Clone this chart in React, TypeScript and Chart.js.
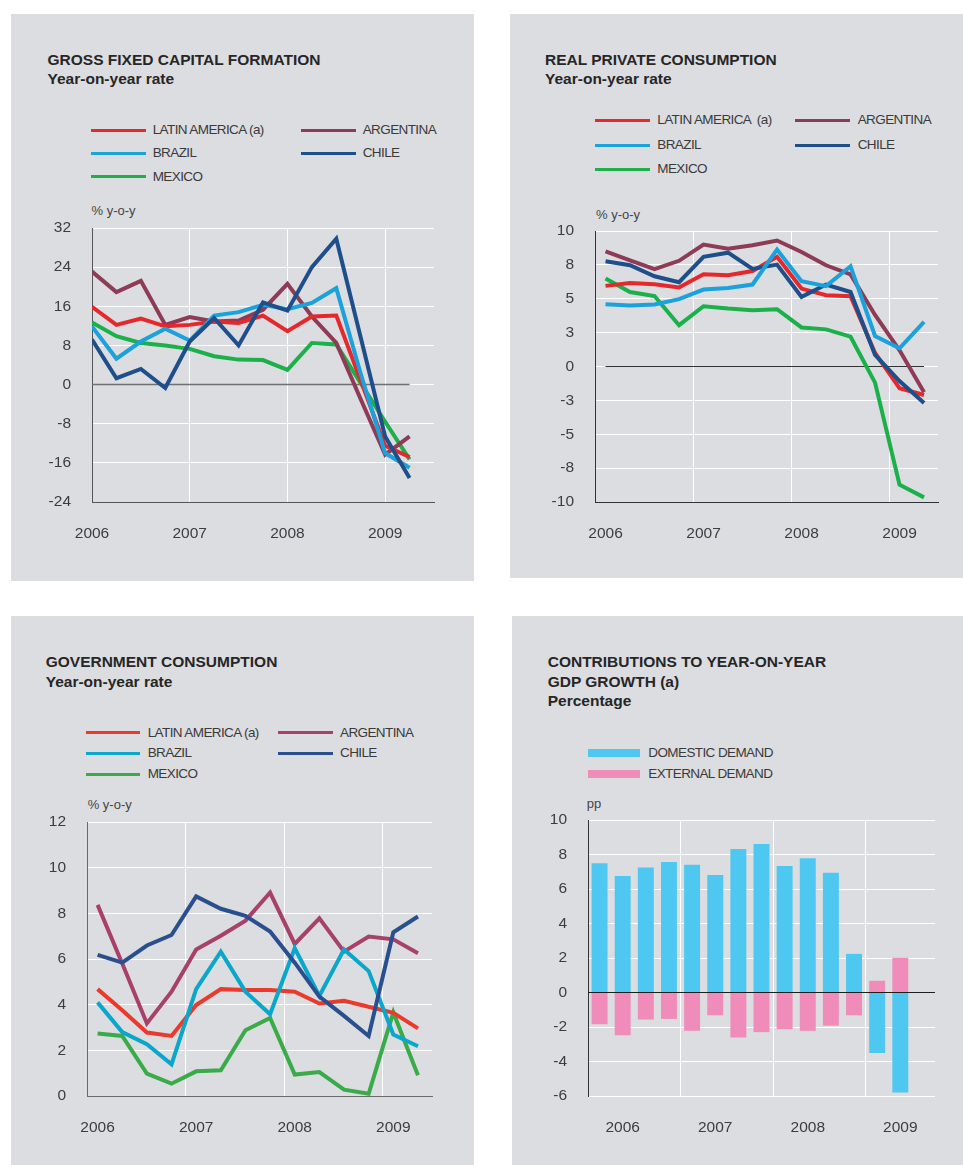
import React, { useEffect, useRef } from 'react';
import { Chart, registerables } from 'chart.js';

Chart.register(...registerables);

// ---------------- DATA ----------------
const quarters = [
  '2006 Q1', '2006 Q2', '2006 Q3', '2006 Q4',
  '2007 Q1', '2007 Q2', '2007 Q3', '2007 Q4',
  '2008 Q1', '2008 Q2', '2008 Q3', '2008 Q4',
  '2009 Q1', '2009 Q2',
];
const yearLabels = ['2006', '2007', '2008', '2009'];

// Gross fixed capital formation, % y-o-y
const gfcfLatam = [15.9, 12.2, 13.5, 11.9, 12.2, 12.9, 12.6, 14.1, 10.9, 13.9, 14.1, 0.8, -12.5, -14.8];
const gfcfArgentina = [23.1, 18.9, 21.2, 12.2, 13.8, 12.9, 13.1, 15.3, 20.6, 13.9, 8.5, -3.0, -14.3, -10.6];
const gfcfBrazil = [11.9, 5.3, 8.8, 11.4, 9.0, 14.1, 14.8, 16.3, 15.4, 16.7, 19.7, 2.2, -14.0, -17.0];
const gfcfChile = [9.2, 1.3, 3.2, -0.7, 8.8, 13.6, 8.0, 16.8, 15.1, 24.0, 29.8, 9.6, -10.6, -19.1];
const gfcfMexico = [12.7, 9.9, 8.5, 8.0, 7.3, 5.8, 5.1, 5.0, 3.0, 8.5, 8.2, 0.3, -7.6, -15.3];
const gfcfYTicks = { min: -24, max: 32, step: 8 };

// Real private consumption, % y-o-y
const rpcLatam = [5.95, 6.17, 6.07, 5.83, 6.8, 6.74, 7.05, 8.1, 5.75, 5.26, 5.19, 1.0, -1.6, -2.1];
const rpcArgentina = [8.5, 7.84, 7.18, 7.8, 9.0, 8.7, 8.95, 9.3, 8.45, 7.47, 6.8, 3.8, 1.2, -1.9];
const rpcBrazil = [4.6, 4.5, 4.58, 4.97, 5.68, 5.8, 6.05, 8.63, 6.3, 5.93, 7.4, 2.25, 1.34, 3.3];
const rpcChile = [7.77, 7.47, 6.66, 6.22, 8.09, 8.4, 7.2, 7.52, 5.14, 6.05, 5.5, 0.85, -1.07, -2.7];
const rpcMexico = [6.5, 5.5, 5.2, 3.05, 4.45, 4.28, 4.16, 4.23, 2.88, 2.74, 2.2, -1.19, -8.72, -9.66];
const rpcYTicks = { min: -10, max: 10, step: 2.5 };
const rpcYTickLabels = ['-10', '-8', '-5', '-3', '0', '3', '5', '8', '10'];

// Government consumption, % y-o-y
const gcLatam = [4.68, 3.76, 2.78, 2.63, 3.98, 4.68, 4.64, 4.64, 4.57, 4.05, 4.17, 3.91, 3.64, 2.96];
const gcArgentina = [8.37, 5.8, 3.18, 4.57, 6.42, 7.02, 7.68, 8.91, 6.66, 7.78, 6.32, 6.98, 6.86, 6.25];
const gcBrazil = [4.1, 2.8, 2.27, 1.39, 4.68, 6.32, 4.57, 3.58, 6.47, 4.38, 6.42, 5.47, 2.69, 2.18];
const gcChile = [6.18, 5.84, 6.59, 7.05, 8.74, 8.2, 7.89, 7.2, 5.84, 4.35, 3.51, 2.63, 7.17, 7.86];
const gcMexico = [2.74, 2.63, 0.98, 0.54, 1.08, 1.13, 2.88, 3.42, 0.94, 1.05, 0.28, 0.1, 3.66, 0.91];
const gcYTicks = { min: 0, max: 12, step: 2 };

// Contributions to y-o-y GDP growth, pp
const domesticDemand = [7.49, 6.75, 7.25, 7.56, 7.41, 6.81, 8.32, 8.61, 7.33, 7.78, 6.94, 2.24, -3.5, -5.8];
const externalDemand = [-1.84, -2.48, -1.57, -1.53, -2.22, -1.32, -2.61, -2.3, -2.13, -2.22, -1.92, -1.32, 0.68, 2.01];
const contribYTicks = { min: -6, max: 10, step: 2 };

// ---------------- STYLE ----------------
const FONT = "'Liberation Sans', Arial, Helvetica, sans-serif";
const PANEL_BG = '#dcdde0';
const TICK_FONT = { family: FONT, size: 15.5 };
const TICK_COLOR = '#3d3d3d';
const CLEAR = 'rgba(0,0,0,0)';
const Y_W = 70;
const PAD_T = 15;
const PAD_R = 10;
const X_H = 55;

const colorsTop = { latam: '#e5282c', argentina: '#8e3b55', brazil: '#1ba1dc', chile: '#1f4f8a', mexico: '#1bb04a' };
const colorsGov = { latam: '#ea3a2d', argentina: '#a8416a', brazil: '#0aa7cb', chile: '#2a4f8f', mexico: '#39ab49' };
const domesticColor = '#4fc8f1';
const externalColor = '#f08cba';

const yearStartIdx = yearLabels.map((y) => quarters.indexOf(y + ' Q1'));

type Geo = { L: number; T: number; R: number; B: number };

function fixY(scale: any) {
  scale.width = Y_W;
  scale.paddingTop = 0;
  scale.paddingBottom = 0;
  scale.paddingLeft = 0;
  scale.paddingRight = 0;
}
function fixX(scale: any) {
  scale.height = X_H;
  scale.paddingTop = 0;
  scale.paddingBottom = 0;
  scale.paddingLeft = 0;
  scale.paddingRight = 0;
}

type AxisOpts = {
  geo: Geo;
  xMin: number;
  xMax: number;
  xTicks: number[];
  labelShift: number; // in x units
  yMin: number;
  yMax: number;
  yStep: number;
  yLabels?: string[];
  axisColor: string;
  xBorder: boolean;
  stacked?: boolean;
};

function buildOptions(o: AxisOpts): any {
  const unitPx = (o.geo.R - o.geo.L) / (o.xMax - o.xMin);
  return {
    responsive: false,
    animation: false,
    events: [],
    layout: { padding: { top: PAD_T, right: PAD_R, left: 0, bottom: 0 } },
    plugins: { legend: { display: false }, tooltip: { enabled: false } },
    scales: {
      x: {
        type: 'linear',
        min: o.xMin,
        max: o.xMax,
        offset: false,
        stacked: !!o.stacked,
        afterBuildTicks: (s: any) => {
          s.ticks = o.xTicks.map((v) => ({ value: v }));
        },
        afterFit: fixX,
        grid: {
          color: (c: any) => (c.index === 0 ? CLEAR : '#ffffff'),
          lineWidth: 1,
          drawTicks: false,
          offset: false,
        },
        border: { display: o.xBorder, color: o.axisColor, width: 1 },
        ticks: {
          callback: (_v: any, i: number) => yearLabels[i],
          font: TICK_FONT,
          color: TICK_COLOR,
          padding: 22,
          labelOffset: o.labelShift * unitPx,
          maxRotation: 0,
          autoSkip: false,
        },
      },
      y: {
        type: 'linear',
        min: o.yMin,
        max: o.yMax,
        stacked: !!o.stacked,
        afterFit: fixY,
        grid: {
          color: (c: any) => (o.xBorder && c.tick && c.tick.value === o.yMin ? CLEAR : '#ffffff'),
          lineWidth: 1,
          drawTicks: false,
        },
        border: { color: o.axisColor, width: 1 },
        ticks: {
          stepSize: o.yStep,
          callback: (v: any, i: number) => (o.yLabels ? o.yLabels[i] : String(v)),
          font: TICK_FONT,
          color: TICK_COLOR,
          padding: 21,
        },
      },
    },
  };
}

type Series = { label: string; values: number[]; color: string; order: number };

function lineConfig(series: Series[], axis: AxisOpts, zero?: { from: number; to: number; color: string; width: number }) {
  const datasets: any[] = series.map((s) => ({
    type: 'line',
    label: s.label,
    data: s.values.map((v, i) => ({ x: i, y: v })),
    borderColor: s.color,
    backgroundColor: s.color,
    borderWidth: 4,
    pointRadius: 0,
    tension: 0,
    fill: false,
    order: s.order,
  }));
  if (zero) {
    datasets.push({
      type: 'line',
      label: 'zero',
      data: [
        { x: zero.from, y: 0 },
        { x: zero.to, y: 0 },
      ],
      borderColor: zero.color,
      backgroundColor: zero.color,
      borderWidth: zero.width,
      pointRadius: 0,
      order: 99,
    });
  }
  return { type: 'line', data: { datasets }, options: buildOptions(axis) };
}

function ChartBox({ geo, makeConfig }: { geo: Geo; makeConfig: () => any }) {
  const ref = useRef<HTMLCanvasElement>(null);
  const left = geo.L - Y_W;
  const top = geo.T - PAD_T;
  const w = geo.R + PAD_R - left;
  const h = geo.B + X_H - top;
  useEffect(() => {
    const chart = new Chart(ref.current as HTMLCanvasElement, makeConfig());
    return () => chart.destroy();
  }, []);
  return (
    <canvas
      ref={ref}
      width={w}
      height={h}
      style={{ position: 'absolute', left, top, width: w, height: h }}
    />
  );
}

function Txt({ x, y, size, bold, color, ls, children }: any) {
  return (
    <div
      style={{
        position: 'absolute',
        left: x,
        top: y - size * 0.59,
        fontFamily: FONT,
        fontSize: size,
        lineHeight: size * 1.2 + 'px',
        fontWeight: bold ? 700 : 400,
        color: color || '#262626',
        letterSpacing: ls || 0,
        whiteSpace: 'pre',
      }}
    >
      {children}
    </div>
  );
}

function Swatch({ x, y, w, h, color }: any) {
  return <div style={{ position: 'absolute', left: x, top: y - h / 2, width: w, height: h, background: color }} />;
}

function LegendItem({ sx, tx, y, w, h, color, label }: any) {
  return (
    <>
      <Swatch x={sx} y={y} w={w} h={h} color={color} />
      <Txt x={tx} y={y} size={13.5} color="#3a3a3a" ls="-0.6px">
        {label}
      </Txt>
    </>
  );
}

const LAST = quarters.length - 1;

export default function App() {
  const geo1: Geo = { L: 92, T: 228, R: 434, B: 502 };
  const geo2: Geo = { L: 595, T: 231, R: 938, B: 502 };
  const geo3: Geo = { L: 87, T: 822, R: 432, B: 1096 };
  const geo4: Geo = { L: 588, T: 820, R: 935, B: 1096 };

  const make1 = () =>
    lineConfig(
      [
        { label: 'LATIN AMERICA (a)', values: gfcfLatam, color: colorsTop.latam, order: 3 },
        { label: 'ARGENTINA', values: gfcfArgentina, color: colorsTop.argentina, order: 4 },
        { label: 'BRAZIL', values: gfcfBrazil, color: colorsTop.brazil, order: 2 },
        { label: 'CHILE', values: gfcfChile, color: colorsTop.chile, order: 1 },
        { label: 'MEXICO', values: gfcfMexico, color: colorsTop.mexico, order: 5 },
      ],
      {
        geo: geo1, xMin: 0, xMax: 14, xTicks: yearStartIdx, labelShift: 0,
        yMin: gfcfYTicks.min, yMax: gfcfYTicks.max, yStep: gfcfYTicks.step,
        axisColor: '#555555', xBorder: true,
      },
      { from: 0, to: LAST, color: '#707070', width: 1.5 }
    );

  const make2 = () =>
    lineConfig(
      [
        { label: 'LATIN AMERICA (a)', values: rpcLatam, color: colorsTop.latam, order: 3 },
        { label: 'ARGENTINA', values: rpcArgentina, color: colorsTop.argentina, order: 4 },
        { label: 'BRAZIL', values: rpcBrazil, color: colorsTop.brazil, order: 1 },
        { label: 'CHILE', values: rpcChile, color: colorsTop.chile, order: 2 },
        { label: 'MEXICO', values: rpcMexico, color: colorsTop.mexico, order: 5 },
      ],
      {
        geo: geo2, xMin: -0.43, xMax: 13.57, xTicks: yearStartIdx.map((v) => v - 0.43), labelShift: 0.43,
        yMin: rpcYTicks.min, yMax: rpcYTicks.max, yStep: rpcYTicks.step, yLabels: rpcYTickLabels,
        axisColor: '#333333', xBorder: true,
      },
      { from: 0, to: LAST, color: '#333333', width: 1 }
    );

  const make3 = () =>
    lineConfig(
      [
        { label: 'LATIN AMERICA (a)', values: gcLatam, color: colorsGov.latam, order: 3 },
        { label: 'ARGENTINA', values: gcArgentina, color: colorsGov.argentina, order: 4 },
        { label: 'BRAZIL', values: gcBrazil, color: colorsGov.brazil, order: 2 },
        { label: 'CHILE', values: gcChile, color: colorsGov.chile, order: 1 },
        { label: 'MEXICO', values: gcMexico, color: colorsGov.mexico, order: 5 },
      ],
      {
        geo: geo3, xMin: -0.43, xMax: 13.57, xTicks: yearStartIdx.map((v) => v - 0.43), labelShift: 0.43,
        yMin: gcYTicks.min, yMax: gcYTicks.max, yStep: gcYTicks.step,
        axisColor: '#6a6a6a', xBorder: true,
      }
    );

  const make4 = () => {
    const axis: AxisOpts = {
      geo: geo4, xMin: -0.5, xMax: 14.5, xTicks: yearStartIdx.map((v) => v - 0.5), labelShift: 1.5,
      yMin: contribYTicks.min, yMax: contribYTicks.max, yStep: contribYTicks.step,
      axisColor: '#333333', xBorder: false, stacked: true,
    };
    return {
      type: 'bar',
      data: {
        datasets: [
          {
            type: 'bar',
            label: 'DOMESTIC DEMAND',
            data: domesticDemand.map((v, i) => ({ x: i, y: v })),
            backgroundColor: domesticColor,
            borderWidth: 0,
            barPercentage: 0.69,
            categoryPercentage: 1,
            stack: 'gdp',
          },
          {
            type: 'bar',
            label: 'EXTERNAL DEMAND',
            data: externalDemand.map((v, i) => ({ x: i, y: v })),
            backgroundColor: externalColor,
            borderWidth: 0,
            barPercentage: 0.69,
            categoryPercentage: 1,
            stack: 'gdp',
          },
          {
            type: 'line',
            label: 'zero',
            data: [
              { x: axis.xMin, y: 0 },
              { x: axis.xMax, y: 0 },
            ],
            borderColor: '#1e1e1e',
            borderWidth: 1.2,
            pointRadius: 0,
            stack: 'zero',
            order: -1,
          },
        ],
      },
      options: buildOptions(axis),
    };
  };

  const unitLbl = { size: 13, color: '#444444' };

  return (
    <div style={{ position: 'absolute', left: 0, top: 0, width: 963, height: 1165, overflow: 'hidden', background: '#ffffff' }}>
      {/* panel backgrounds */}
      <div style={{ position: 'absolute', left: 11, top: 14, width: 463, height: 567, background: PANEL_BG }} />
      <div style={{ position: 'absolute', left: 510, top: 14, width: 453, height: 564, background: PANEL_BG }} />
      <div style={{ position: 'absolute', left: 11, top: 616, width: 463, height: 549, background: PANEL_BG }} />
      <div style={{ position: 'absolute', left: 512, top: 616, width: 451, height: 549, background: PANEL_BG }} />

      {/* Panel 1 */}
      <Txt x={47.5} y={60.2} size={15.5} bold>GROSS FIXED CAPITAL FORMATION</Txt>
      <Txt x={47.5} y={79.4} size={15.5} bold>Year-on-year rate</Txt>
      <LegendItem sx={91} tx={152.7} y={130} w={55} h={3} color={colorsTop.latam} label="LATIN AMERICA (a)" />
      <LegendItem sx={301} tx={362.7} y={130} w={55} h={3} color={colorsTop.argentina} label="ARGENTINA" />
      <LegendItem sx={91} tx={152.7} y={153.3} w={55} h={3} color={colorsTop.brazil} label="BRAZIL" />
      <LegendItem sx={301} tx={362.7} y={153.3} w={55} h={3} color={colorsTop.chile} label="CHILE" />
      <LegendItem sx={91} tx={152.7} y={176.7} w={55} h={3} color={colorsTop.mexico} label="MEXICO" />
      <Txt x={91.5} y={211} size={unitLbl.size} color={unitLbl.color}>% y-o-y</Txt>
      <ChartBox geo={geo1} makeConfig={make1} />

      {/* Panel 2 */}
      <Txt x={545} y={60.2} size={15.5} bold>REAL PRIVATE CONSUMPTION</Txt>
      <Txt x={545} y={79.4} size={15.5} bold>Year-on-year rate</Txt>
      <LegendItem sx={595} tx={657.3} y={120} w={55} h={3} color={colorsTop.latam} label="LATIN AMERICA  (a)" />
      <LegendItem sx={795} tx={857.7} y={120} w={55} h={3} color={colorsTop.argentina} label="ARGENTINA" />
      <LegendItem sx={595} tx={657.3} y={145} w={55} h={3} color={colorsTop.brazil} label="BRAZIL" />
      <LegendItem sx={795} tx={857.7} y={145} w={55} h={3} color={colorsTop.chile} label="CHILE" />
      <LegendItem sx={595} tx={657.3} y={169.3} w={55} h={3} color={colorsTop.mexico} label="MEXICO" />
      <Txt x={596} y={215} size={unitLbl.size} color={unitLbl.color}>% y-o-y</Txt>
      <ChartBox geo={geo2} makeConfig={make2} />

      {/* Panel 3 */}
      <Txt x={45.7} y={662.5} size={15.5} bold>GOVERNMENT CONSUMPTION</Txt>
      <Txt x={45.7} y={681.7} size={15.5} bold>Year-on-year rate</Txt>
      <LegendItem sx={86} tx={147.7} y={732.7} w={54} h={3} color={colorsGov.latam} label="LATIN AMERICA (a)" />
      <LegendItem sx={278.3} tx={340} y={732.7} w={55} h={3} color={colorsGov.argentina} label="ARGENTINA" />
      <LegendItem sx={86} tx={147.7} y={753.3} w={54} h={3} color={colorsGov.brazil} label="BRAZIL" />
      <LegendItem sx={278.3} tx={340} y={753.3} w={55} h={3} color={colorsGov.chile} label="CHILE" />
      <LegendItem sx={86} tx={147.7} y={774} w={54} h={3} color={colorsGov.mexico} label="MEXICO" />
      <Txt x={87.7} y={805} size={unitLbl.size} color={unitLbl.color}>% y-o-y</Txt>
      <ChartBox geo={geo3} makeConfig={make3} />

      {/* Panel 4 */}
      <Txt x={547.7} y={662.5} size={15.5} bold>CONTRIBUTIONS TO YEAR-ON-YEAR</Txt>
      <Txt x={547.7} y={681.8} size={15.5} bold>GDP GROWTH (a)</Txt>
      <Txt x={547.7} y={700.8} size={15.5} bold>Percentage</Txt>
      <LegendItem sx={587.7} tx={648.3} y={753.3} w={52} h={8} color={domesticColor} label="DOMESTIC DEMAND" />
      <LegendItem sx={587.7} tx={648.3} y={774} w={52} h={8} color={externalColor} label="EXTERNAL DEMAND" />
      <Txt x={586.7} y={804} size={unitLbl.size} color={unitLbl.color}>pp</Txt>
      <ChartBox geo={geo4} makeConfig={make4} />
    </div>
  );
}
